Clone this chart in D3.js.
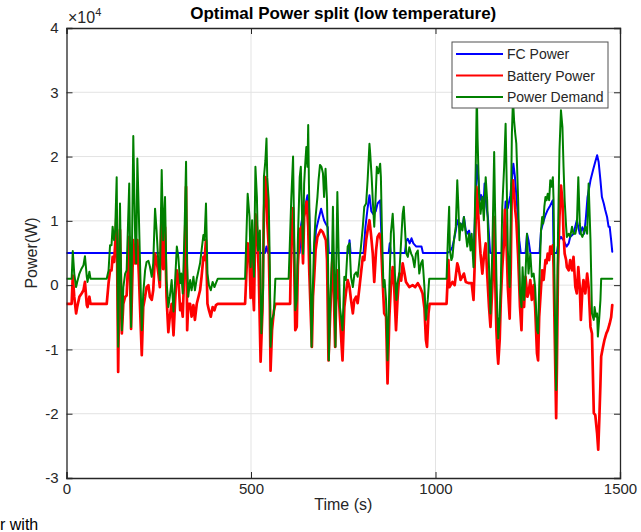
<!DOCTYPE html>
<html>
<head>
<meta charset="utf-8">
<script src="https://cdn.jsdelivr.net/npm/d3@7"></script>
<style>
  html, body { margin: 0; padding: 0; background: #fff; }
  svg { display: block; font-family: "Liberation Sans", Arial, Helvetica, sans-serif; }
</style>
</head>
<body>
<svg id="chart" width="641" height="532"></svg>
<script>
// ---------------- DATA ----------------
const xTicks = [0, 500, 1000, 1500];
const yTicks = [-30000, -20000, -10000, 0, 10000, 20000, 30000, 40000];
const yTickLabels = ["-3", "-2", "-1", "0", "1", "2", "3", "4"];
const seriesNames = ["FC Power", "Battery Power", "Power Demand"];

// FC Power (W)
const fcTime = [0,538,542,546,632,636,641,646,653,657,661,672,676,682,690,694,698,703,708,711,764,767,770,805,810,816,821,826,832,838,843,850,855,873,876,879,917,921,925,930,935,940,948,955,962,966,1032,1040,1046,1050,1055,1059,1065,1068,1073,1077,1082,1086,1091,1095,1100,1103,1106,1112,1115,1120,1124,1130,1133,1138,1142,1148,1181,1186,1190,1196,1203,1211,1215,1220,1224,1227,1231,1244,1248,1252,1257,1282,1286,1291,1298,1304,1311,1316,1318,1320,1329,1334,1340,1347,1355,1361,1365,1374,1383,1391,1398,1403,1407,1412,1420,1427,1433,1438,1442,1447,1451,1456,1460,1465,1469,1472,1476,1479];
const fcPower = [5000,5000,6000,5000,5000,9500,11000,12000,14000,12500,5000,5000,8500,10000,11900,11000,10100,9500,9000,5000,5000,7000,5000,5000,9000,12000,14000,11500,11000,11500,12700,13200,5000,5000,6500,5000,5000,7000,7200,6500,7300,6500,6000,6000,6000,5000,5000,5300,6000,7000,8500,10100,9000,9600,9000,10600,8500,8000,8500,7000,6000,5000,9000,18700,17500,13200,14000,12200,15800,12200,10600,5000,5000,9000,13000,12000,14000,18900,17000,13200,10000,7000,5000,5000,8000,7000,5000,5000,8500,9600,10900,11700,12400,13000,13200,5000,5000,7000,7500,7000,6000,6500,7500,8000,10100,8000,9000,8000,10100,13700,16300,17900,19200,20200,19200,16300,13700,12700,11700,10600,9100,9100,7000,5200];

// Battery Power (W)
const batTime = [0,14,17,21,26,29,35,41,46,50,55,57,62,65,109,114,118,122,125,129,132,136,140,145,150,154,159,163,170,175,181,186,189,192,196,204,208,213,217,222,226,231,235,240,244,249,253,258,262,267,271,276,280,285,290,294,299,303,308,311,315,320,324,327,330,335,339,344,348,353,362,366,371,374,378,382,386,391,396,401,405,410,484,491,496,499,503,505,508,512,516,521,526,531,535,539,542,544,548,551,553,557,562,566,606,609,614,617,620,624,627,632,637,641,644,651,655,658,665,668,671,675,680,689,695,703,706,710,715,720,722,728,731,734,738,741,748,753,757,762,767,771,776,780,785,789,794,798,803,807,812,816,821,825,830,834,839,843,848,852,857,861,866,870,875,879,884,888,893,897,902,907,911,916,920,929,938,945,952,958,965,970,974,977,981,984,1030,1032,1035,1038,1046,1052,1059,1062,1068,1077,1082,1091,1098,1103,1106,1111,1114,1118,1122,1127,1131,1136,1140,1145,1149,1154,1159,1161,1165,1168,1170,1174,1177,1181,1186,1188,1193,1196,1201,1204,1207,1210,1213,1216,1219,1224,1226,1229,1233,1236,1240,1244,1249,1252,1257,1261,1266,1270,1275,1278,1281,1286,1289,1293,1298,1301,1304,1308,1311,1314,1318,1320,1323,1327,1329,1332,1336,1340,1344,1347,1350,1354,1356,1361,1365,1370,1374,1379,1383,1387,1391,1394,1398,1401,1406,1411,1415,1420,1424,1429,1433,1438,1441,1444,1447,1449,1454,1458,1463,1467,1472,1476,1479];
const batPower = [-2900,-2900,1500,-1800,-4400,-3400,-1800,-1300,-800,500,-3100,-3400,-1800,-2900,-2900,300,2300,2300,4400,3600,6500,11700,-13500,8600,-7500,-2900,-1800,-1600,7500,-6800,7000,3400,3400,7000,1800,-10900,-3400,-1800,-300,0,-1800,-2300,-800,4900,3900,1800,-300,12000,2500,9000,-1800,-7300,-4900,-2900,-7800,-2900,2300,1300,-3900,-2900,-4900,3400,15300,-7000,-2900,-2900,-4900,-3100,-5400,-2900,-800,1300,4400,3900,7000,-2900,-3900,-4900,-3400,-3900,-3100,-2900,-2900,6500,4000,-2000,5000,-500,-3900,11000,9000,2000,-11900,-4000,11000,16800,15000,10000,6000,-3000,-13300,-7000,-4000,-2900,-2900,7500,12000,3400,-7000,-6500,3000,8600,9100,3400,10600,13000,9000,2000,-9600,-1800,1000,5400,7500,8600,8200,7000,4000,-11700,-4000,3400,5000,-9600,-1800,2300,-1800,-5000,-11700,-3400,-1300,800,-300,-2300,-4400,-2300,-1800,-2800,-300,1800,4400,3900,7000,8500,10100,8000,4900,500,5400,7500,8000,7000,300,-4400,-4900,-15300,-4900,-300,2800,-300,-7000,-2300,1800,700,3400,1800,500,-300,0,-300,300,-300,-1300,-3600,-8500,-9600,-4400,-2900,-2900,-300,3900,-300,500,0,3400,2800,800,1800,500,300,300,-2300,2800,15300,13200,8500,4900,1800,4400,6500,1800,-3400,-6500,-300,10600,2800,-7000,-10600,-12200,-8500,-2300,2800,7000,11700,5400,-300,-5200,2800,15800,16300,14200,11700,10100,4400,1300,-3400,-7000,-800,-3400,1300,-1800,-1300,800,-2300,0,-3400,-10600,-11700,-4900,-300,2300,800,3900,3400,4900,3900,6000,4900,6200,2800,-7500,-20700,-12700,2800,10600,15500,13200,8000,4900,3900,2800,2300,3900,2300,4400,-300,-1300,2800,-300,-5400,-800,800,-1300,1800,-300,-6500,-7500,-19900,-20200,-23100,-25600,-20700,-15300,-11100,-9600,-8500,-7500,-7000,-6000,-5000,-3100];

// Power Demand (W)
const demTime = [0,14,17,21,26,29,35,41,46,50,55,57,62,65,109,114,118,122,125,129,132,136,140,145,150,154,159,163,170,175,181,186,189,192,196,200,204,208,213,217,222,226,231,235,240,244,249,253,258,262,267,271,276,280,285,290,294,299,303,308,311,315,320,324,327,330,335,339,344,348,353,362,366,371,374,378,382,386,391,396,401,405,410,484,491,496,499,503,505,508,512,516,519,524,528,533,535,539,542,544,548,551,553,557,562,566,602,605,609,614,617,620,624,627,632,635,638,641,644,647,650,653,655,657,660,664,668,671,675,680,683,687,691,695,698,702,706,709,711,715,720,722,725,729,731,734,738,741,745,748,753,757,762,767,771,776,780,785,789,794,798,803,807,812,816,821,823,827,830,834,837,841,845,850,852,855,859,862,866,870,875,879,884,887,890,894,897,902,907,911,914,917,921,925,929,934,938,943,947,952,956,961,965,970,974,979,983,1030,1034,1037,1039,1043,1046,1050,1055,1059,1062,1065,1068,1073,1077,1082,1086,1091,1095,1098,1103,1106,1109,1112,1114,1118,1122,1127,1131,1136,1140,1145,1149,1154,1159,1161,1165,1168,1170,1174,1177,1181,1186,1190,1193,1196,1201,1204,1207,1210,1213,1216,1219,1224,1226,1229,1233,1236,1240,1244,1248,1252,1257,1261,1266,1270,1275,1278,1281,1286,1289,1292,1295,1298,1301,1304,1308,1311,1314,1318,1320,1323,1327,1329,1332,1336,1340,1344,1347,1350,1354,1356,1361,1365,1370,1374,1379,1383,1387,1391,1394,1398,1401,1406,1411,1415,1420,1424,1429,1431,1435,1438,1440,1444,1447,1449,1479];
const demPower = [1000,1000,5300,1800,-300,500,1800,2600,3100,4500,1300,500,2100,1000,1000,2300,6200,6200,9100,7000,8600,16800,-9600,12700,-7000,-300,1800,2300,15800,-6500,23200,7500,3400,19700,11100,1800,-7000,-1300,2300,3600,3800,2900,1300,3400,11900,8600,3400,800,17900,7000,13700,800,-3400,-1800,800,-4100,300,6000,4400,300,1800,-1300,8600,19200,3400,-1800,800,-800,1300,-800,1000,3400,5400,7800,7000,12700,1800,0,-800,500,-300,300,1000,1000,14200,10600,2800,10100,4900,1300,18400,13700,5400,8500,-7500,-300,16800,19400,22800,16800,13200,2800,-9600,-5400,-4400,1000,1000,6000,13200,20000,8000,-3900,-2300,7000,16800,18400,11700,4900,15800,18900,21500,18400,24900,15800,5400,-9600,300,6500,10600,13700,16300,18700,18400,17400,13700,18100,13200,2800,-11700,-2300,5400,12200,2800,-9600,2800,14500,3900,-3400,-5400,-7000,1300,800,6000,6500,1300,-300,1600,2000,1300,3900,6000,9100,12200,12700,16300,22000,20500,16800,13200,9100,12700,18400,17400,18900,16800,8000,-300,800,-2300,-11700,-300,8000,11100,8000,1800,-2300,300,1800,7000,11100,12200,9100,4900,4400,5900,4900,4400,2800,4900,5400,1800,3400,3900,-300,-5400,-2300,1000,1000,8000,12200,5400,3900,4400,7000,9100,16300,12200,7000,9600,8500,10600,8000,6000,8000,5400,8000,2800,9100,18400,30000,22800,14200,11100,13700,10100,16800,13200,2800,-4400,5400,20700,13200,1300,-4900,-8300,-4900,300,12200,18400,25100,15800,5400,-300,10600,23600,29000,25600,23600,22000,13200,8000,-1300,-3400,2800,-2300,1800,8000,1800,4900,1300,1800,-300,-7000,-7500,-300,8500,10600,9600,12200,13700,13200,14200,13200,16300,15300,16800,13200,-2300,-16300,-7500,8000,21000,27200,24600,18400,13200,9100,7500,8000,7500,9100,8000,8000,9100,16800,9600,8000,7500,8000,9100,8000,15800,7000,-4400,-5400,-3400,-4900,-4400,-8000,-4900,-2300,1000,1000];

// ---------------- LAYOUT ----------------
const svg = d3.select("#chart");
const W = 641, H = 532;
const plot = { left: 66.5, right: 620, top: 28, bottom: 478 };
const axisColor = "#262626";
const colors = ["#0000ff", "#ff0000", "#008000"];
const widths = [2, 2.7, 2];

const x = d3.scaleLinear().domain([0, 1500]).range([plot.left, plot.right]);
const y = d3.scaleLinear().domain([-30000, 40000]).range([plot.bottom, plot.top]);

svg.append("rect").attr("width", W).attr("height", H).attr("fill", "#fff");

// grid
const grid = svg.append("g");
grid.selectAll("line.gx").data(xTicks.slice(1, -1)).enter().append("line")
  .attr("x1", d => x(d)).attr("x2", d => x(d))
  .attr("y1", plot.top).attr("y2", plot.bottom)
  .attr("stroke", "#e3e3e3").attr("stroke-width", 1);
grid.selectAll("line.gy").data(yTicks.slice(1, -1)).enter().append("line")
  .attr("y1", d => y(d)).attr("y2", d => y(d))
  .attr("x1", plot.left).attr("x2", plot.right)
  .attr("stroke", "#e3e3e3").attr("stroke-width", 1);

// clip
svg.append("clipPath").attr("id", "clip").append("rect")
  .attr("x", plot.left).attr("y", plot.top)
  .attr("width", plot.right - plot.left).attr("height", plot.bottom - plot.top);

const line = d3.line().x(d => x(d[0])).y(d => y(d[1]));
const series = [
  d3.zip(fcTime, fcPower),
  d3.zip(batTime, batPower),
  d3.zip(demTime, demPower)
];
const lines = svg.append("g").attr("clip-path", "url(#clip)");
series.forEach((s, i) => {
  lines.append("path").datum(s)
    .attr("d", line)
    .attr("fill", "none")
    .attr("stroke", colors[i])
    .attr("stroke-width", widths[i])
    .attr("stroke-linejoin", "round")
    .attr("stroke-linecap", "round");
});

// axes with inward ticks (box)
const tickLen = 6;
const axB = svg.append("g").attr("transform", `translate(0,${plot.bottom})`)
  .call(d3.axisBottom(x).tickValues(xTicks).tickSize(-tickLen).tickPadding(5).tickFormat(d3.format("d")));
const axT = svg.append("g").attr("transform", `translate(0,${plot.top})`)
  .call(d3.axisTop(x).tickValues(xTicks).tickSize(-tickLen).tickFormat(""));
const axL = svg.append("g").attr("transform", `translate(${plot.left},0)`)
  .call(d3.axisLeft(y).tickValues(yTicks).tickSize(-tickLen).tickPadding(8).tickFormat((d, i) => yTickLabels[i]));
const axR = svg.append("g").attr("transform", `translate(${plot.right},0)`)
  .call(d3.axisRight(y).tickValues(yTicks).tickSize(-tickLen).tickFormat(""));

[axB, axT, axL, axR].forEach(a => {
  a.select(".domain").attr("stroke", axisColor).attr("stroke-width", 1.3);
  a.selectAll(".tick line").attr("stroke", axisColor).attr("stroke-width", 1);
  a.selectAll(".tick text").attr("fill", axisColor)
    .style("font-size", "15px").style("font-family", '"Liberation Sans", Arial, sans-serif');
});

// exponent label
const expo = svg.append("text").attr("x", 68).attr("y", 23)
  .attr("fill", axisColor).style("font-size", "16px");
expo.append("tspan").text("\u00d710");
expo.append("tspan").attr("dy", -7).style("font-size", "11px").text("4");

// title
svg.append("text").attr("x", (plot.left + plot.right) / 2).attr("y", 19)
  .attr("text-anchor", "middle").attr("fill", "#000")
  .style("font-size", "17px").style("font-weight", "bold")
  .text("Optimal Power split (low temperature)");

// axis labels
svg.append("text").attr("x", (plot.left + plot.right) / 2).attr("y", 510)
  .attr("text-anchor", "middle").attr("fill", axisColor)
  .style("font-size", "16px").text("Time (s)");
svg.append("text")
  .attr("transform", `translate(37,${(plot.top + plot.bottom) / 2}) rotate(-90)`)
  .attr("text-anchor", "middle").attr("fill", axisColor)
  .style("font-size", "16px").text("Power(W)");

// legend
const lg = svg.append("g");
lg.append("rect").attr("x", 452).attr("y", 42).attr("width", 156).attr("height", 66)
  .attr("fill", "#fff").attr("stroke", "#505050").attr("stroke-width", 1);
seriesNames.forEach((n, i) => {
  const yy = 54 + i * 21.5;
  lg.append("line").attr("x1", 456).attr("x2", 503).attr("y1", yy).attr("y2", yy)
    .attr("stroke", colors[i]).attr("stroke-width", 2);
  lg.append("text").attr("x", 507).attr("y", yy + 5).attr("fill", axisColor)
    .style("font-size", "14px").text(n);
});

// stray text at lower-left of the captured image
svg.append("text").attr("x", 0).attr("y", 530).attr("fill", "#000")
  .style("font-size", "16px").text("r with");
</script>
</body>
</html>
